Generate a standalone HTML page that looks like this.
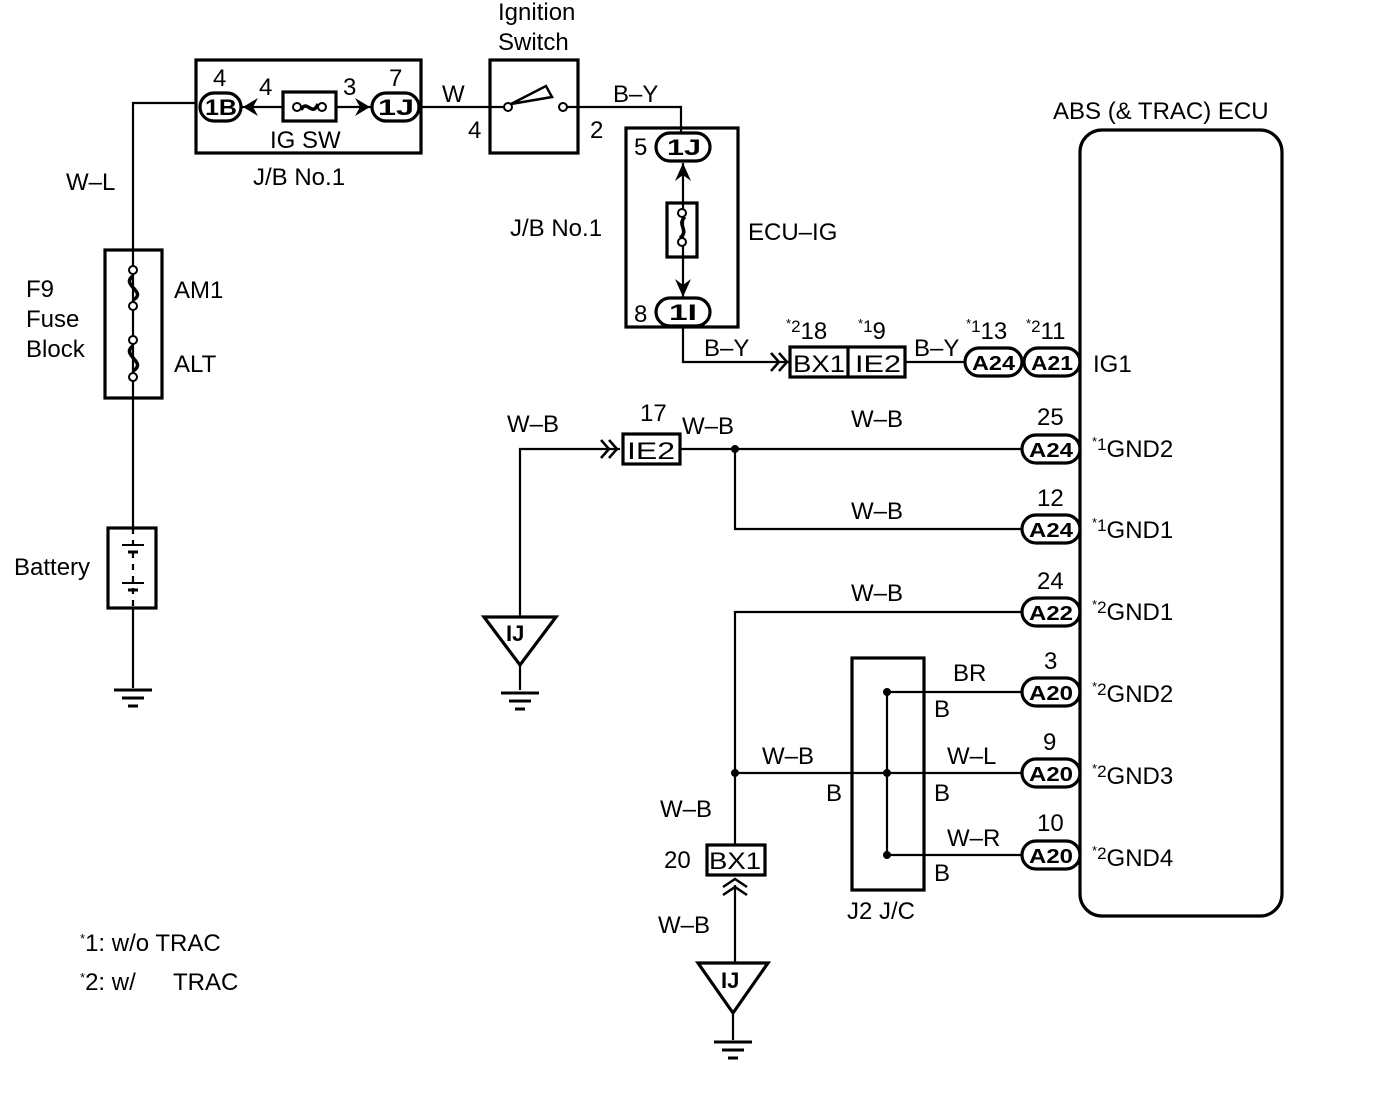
<!DOCTYPE html>
<html><head><meta charset="utf-8"><style>
html,body{margin:0;padding:0;background:#fff;}
svg{display:block;}
text{font-family:"Liberation Sans",Arial,sans-serif;font-size:24px;fill:#000;}
.o{font-size:20px;font-weight:bold;}
.ast{font-size:13px;}
.sup{font-size:17px;}
</style></head><body>
<svg width="1392" height="1102" viewBox="0 0 1392 1102" xmlns="http://www.w3.org/2000/svg">
<g fill="none" stroke="#000" stroke-width="2.2">
<polyline points="197,103 133,103 133,250"/>
<line x1="133" y1="398" x2="133" y2="528"/>
<line x1="133" y1="608" x2="133" y2="688"/>
<line x1="241" y1="107" x2="283" y2="107"/>
<line x1="336" y1="107" x2="372" y2="107"/>
<line x1="421" y1="107" x2="508" y2="107"/>
<polyline points="563,107 681,107 681,133"/>
<line x1="683" y1="163" x2="683" y2="297"/>
<polyline points="683,327 683,362 790,362"/>
<line x1="905" y1="362" x2="965" y2="362"/>
<polyline points="520,617 520,449 620,449"/>
<line x1="520" y1="665" x2="520" y2="690"/>
<line x1="680" y1="449" x2="1022" y2="449"/>
<polyline points="735,449 735,529 1022,529"/>
<polyline points="1022,612 735,612 735,845"/>
<line x1="735" y1="773" x2="1022" y2="773"/>
<line x1="887" y1="692" x2="887" y2="855"/>
<line x1="887" y1="692" x2="1022" y2="692"/>
<line x1="887" y1="855" x2="1022" y2="855"/>
<line x1="735" y1="885" x2="735" y2="963"/>
<line x1="733" y1="1013" x2="733" y2="1040"/>
<line x1="133" y1="250" x2="133" y2="398"/>
<line x1="133" y1="528" x2="133" y2="608" stroke-dasharray="6,6"/>
</g>
<g fill="none" stroke="#000" stroke-width="3.2">
<rect x="196" y="60" width="225" height="93"/>
<rect x="490" y="60" width="88" height="93"/>
<rect x="626" y="128" width="112" height="199"/>
<rect x="105" y="250" width="57" height="148"/>
<rect x="108" y="528" width="48" height="80"/>
<rect x="1080" y="130" width="202" height="786" rx="22"/>
<rect x="283" y="92" width="53" height="29"/>
<rect x="667" y="203" width="30" height="54"/>
<rect x="790" y="347" width="115" height="30"/>
<line x1="848" y1="347" x2="848" y2="377"/>
<rect x="623" y="434" width="57" height="30"/>
<rect x="852" y="658" width="72" height="232"/>
<rect x="707" y="845" width="58" height="30"/>
<rect x="200" y="93" width="41" height="28" rx="14"/>
<rect x="372" y="93" width="47" height="28" rx="14"/>
<rect x="656" y="133" width="54" height="28" rx="14"/>
<rect x="656" y="298" width="54" height="28" rx="14"/>
<rect x="965" y="348" width="57" height="28" rx="14"/>
<rect x="1024" y="348" width="56" height="28" rx="14"/>
<rect x="1022" y="435" width="58" height="28" rx="14"/>
<rect x="1022" y="515" width="58" height="28" rx="14"/>
<rect x="1022" y="598" width="58" height="28" rx="14"/>
<rect x="1022" y="678" width="58" height="28" rx="14"/>
<rect x="1022" y="759" width="58" height="28" rx="14"/>
<rect x="1022" y="841" width="58" height="28" rx="14"/>
<polygon points="484,617 556,617 520,665"/>
<polygon points="698,963 768,963 733,1013"/>
</g>
<g stroke="#000" stroke-width="3">
<line x1="114" y1="690" x2="152" y2="690"/><line x1="122" y1="698" x2="144" y2="698"/><line x1="128" y1="706" x2="138" y2="706"/>
<line x1="501" y1="693" x2="539" y2="693"/><line x1="509" y1="701" x2="531" y2="701"/><line x1="515" y1="709" x2="525" y2="709"/>
<line x1="714" y1="1042" x2="752" y2="1042"/><line x1="722" y1="1050" x2="744" y2="1050"/><line x1="728" y1="1058" x2="738" y2="1058"/>
<line x1="122" y1="545" x2="144" y2="545" stroke-width="2"/><line x1="128" y1="552" x2="138" y2="552"/>
<line x1="122" y1="583" x2="144" y2="583" stroke-width="2"/><line x1="128" y1="590" x2="138" y2="590"/>
</g>
<g fill="#fff" stroke="#000" stroke-width="2">
<circle cx="133" cy="270" r="4"/><circle cx="133" cy="306" r="4"/>
<circle cx="133" cy="340" r="4"/><circle cx="133" cy="377" r="4"/>
<circle cx="297" cy="107" r="4"/><circle cx="322" cy="107" r="4"/>
<circle cx="682" cy="213" r="4"/><circle cx="682" cy="242" r="4"/>
<circle cx="508" cy="107" r="4"/><circle cx="563" cy="107" r="4"/>
</g>
<g fill="none" stroke="#000" stroke-width="3.5">
<path d="M133,276 C120,285 148,292 133,300"/>
<path d="M133,346 C120,355 148,362 133,371"/>
<path d="M301,110 C307,98 312,118 318,104"/>
<path d="M685,217 C676,225 690,230 680,238"/>
</g>
<polygon points="511,104 546,86 552,97" fill="none" stroke="#000" stroke-width="2.5"/>
<g fill="#000">
<path d="M243,107 L258,98 L253,107 L258,116 Z"/>
<path d="M370,107 L355,98 L360,107 L355,116 Z"/>
<path d="M683,163 L675,181 L683,175 L691,181 Z"/>
<path d="M683,297 L675,279 L683,285 L691,279 Z"/>
<circle cx="735" cy="449" r="4"/><circle cx="735" cy="773" r="4"/>
<circle cx="887" cy="692" r="4"/><circle cx="887" cy="773" r="4"/><circle cx="887" cy="855" r="4"/>
</g>
<g fill="none" stroke="#000" stroke-width="2.5">
<polyline points="771,353 779,362 771,371"/><polyline points="779,353 787,362 779,371"/>
<polyline points="601,440 609,449 601,458"/><polyline points="609,440 617,449 609,458"/>
<polyline points="723,887 735,879 747,887"/><polyline points="723,895 735,887 747,895"/>
</g>
<text x="498" y="20">Ignition</text>
<text x="498" y="50">Switch</text>
<text x="1053" y="119">ABS (&amp; TRAC) ECU</text>
<text x="213" y="86">4</text><text x="259" y="95">4</text><text x="343" y="95">3</text><text x="389" y="86">7</text>
<text x="205" y="115" class="o" style="font-size:22px" textLength="32" lengthAdjust="spacingAndGlyphs">1B</text>
<text x="378" y="115" class="o" style="font-size:22px" textLength="36" lengthAdjust="spacingAndGlyphs">1J</text>
<text x="270" y="148">IG SW</text>
<text x="253" y="185">J/B No.1</text>
<text x="442" y="102">W</text>
<text x="468" y="138">4</text><text x="590" y="138">2</text>
<text x="613" y="102">B–Y</text>
<text x="634" y="155">5</text>
<text x="667" y="155" class="o" style="font-size:22px" textLength="34" lengthAdjust="spacingAndGlyphs">1J</text>
<text x="634" y="322">8</text>
<text x="669" y="320" class="o" style="font-size:22px" textLength="28" lengthAdjust="spacingAndGlyphs">1I</text>
<text x="510" y="236">J/B No.1</text>
<text x="748" y="240">ECU–IG</text>
<text x="66" y="190">W–L</text>
<text x="26" y="297">F9</text><text x="26" y="327">Fuse</text><text x="26" y="357">Block</text>
<text x="174" y="298">AM1</text><text x="174" y="372">ALT</text>
<text x="14" y="575">Battery</text>
<text x="506" y="641" style="font-size:22px;font-weight:bold">IJ</text><text x="721" y="988" style="font-size:22px;font-weight:bold">IJ</text>
<text x="704" y="356">B–Y</text>
<text x="786" y="339"><tspan class="ast" dy="-11">*</tspan><tspan class="sup" dy="4">2</tspan><tspan dy="7">18</tspan></text>
<text x="858" y="339"><tspan class="ast" dy="-11">*</tspan><tspan class="sup" dy="4">1</tspan><tspan dy="7">9</tspan></text>
<text x="793" y="372" textLength="52" lengthAdjust="spacingAndGlyphs">BX1</text>
<text x="855" y="372" textLength="46" lengthAdjust="spacingAndGlyphs">IE2</text>
<text x="914" y="356">B–Y</text>
<text x="966" y="339"><tspan class="ast" dy="-11">*</tspan><tspan class="sup" dy="4">1</tspan><tspan dy="7">13</tspan></text>
<text x="1026" y="339"><tspan class="ast" dy="-11">*</tspan><tspan class="sup" dy="4">2</tspan><tspan dy="7">11</tspan></text>
<text x="972" y="370" class="o" textLength="43" lengthAdjust="spacingAndGlyphs">A24</text>
<text x="1031" y="370" class="o" textLength="42" lengthAdjust="spacingAndGlyphs">A21</text>
<text x="1093" y="372">IG1</text>
<text x="507" y="432">W–B</text>
<text x="640" y="421">17</text>
<text x="682" y="434">W–B</text>
<text x="627" y="459" textLength="48" lengthAdjust="spacingAndGlyphs">IE2</text>
<g class="o">
<text x="1029" y="457" class="o" textLength="44" lengthAdjust="spacingAndGlyphs">A24</text>
<text x="1029" y="537" class="o" textLength="44" lengthAdjust="spacingAndGlyphs">A24</text>
<text x="1029" y="620" class="o" textLength="44" lengthAdjust="spacingAndGlyphs">A22</text>
<text x="1029" y="700" class="o" textLength="44" lengthAdjust="spacingAndGlyphs">A20</text>
<text x="1029" y="781" class="o" textLength="44" lengthAdjust="spacingAndGlyphs">A20</text>
<text x="1029" y="863" class="o" textLength="44" lengthAdjust="spacingAndGlyphs">A20</text>
</g>
<text x="851" y="427">W–B</text><text x="1037" y="425">25</text>
<text x="1092" y="457"><tspan class="ast" dy="-11">*</tspan><tspan class="sup" dy="4">1</tspan><tspan dy="7">GND2</tspan></text>
<text x="851" y="519">W–B</text><text x="1037" y="506">12</text>
<text x="1092" y="538"><tspan class="ast" dy="-11">*</tspan><tspan class="sup" dy="4">1</tspan><tspan dy="7">GND1</tspan></text>
<text x="851" y="601">W–B</text><text x="1037" y="589">24</text>
<text x="1092" y="620"><tspan class="ast" dy="-11">*</tspan><tspan class="sup" dy="4">2</tspan><tspan dy="7">GND1</tspan></text>
<text x="953" y="681">BR</text><text x="1044" y="669">3</text>
<text x="934" y="717">B</text>
<text x="1092" y="702"><tspan class="ast" dy="-11">*</tspan><tspan class="sup" dy="4">2</tspan><tspan dy="7">GND2</tspan></text>
<text x="762" y="764">W–B</text>
<text x="947" y="764">W–L</text><text x="1043" y="750">9</text>
<text x="826" y="801">B</text><text x="934" y="801">B</text>
<text x="1092" y="784"><tspan class="ast" dy="-11">*</tspan><tspan class="sup" dy="4">2</tspan><tspan dy="7">GND3</tspan></text>
<text x="947" y="846">W–R</text><text x="1037" y="831">10</text>
<text x="934" y="881">B</text>
<text x="1092" y="866"><tspan class="ast" dy="-11">*</tspan><tspan class="sup" dy="4">2</tspan><tspan dy="7">GND4</tspan></text>
<text x="660" y="817">W–B</text>
<text x="664" y="868">20</text>
<text x="709" y="869" textLength="52" lengthAdjust="spacingAndGlyphs">BX1</text>
<text x="847" y="919">J2 J/C</text>
<text x="658" y="933">W–B</text>
<text x="80" y="951"><tspan class="ast" dy="-8">*</tspan><tspan dy="8">1: w/o TRAC</tspan></text>
<text x="80" y="990"><tspan class="ast" dy="-8">*</tspan><tspan dy="8">2: w/</tspan><tspan x="173">TRAC</tspan></text>
</svg>
</body></html>
